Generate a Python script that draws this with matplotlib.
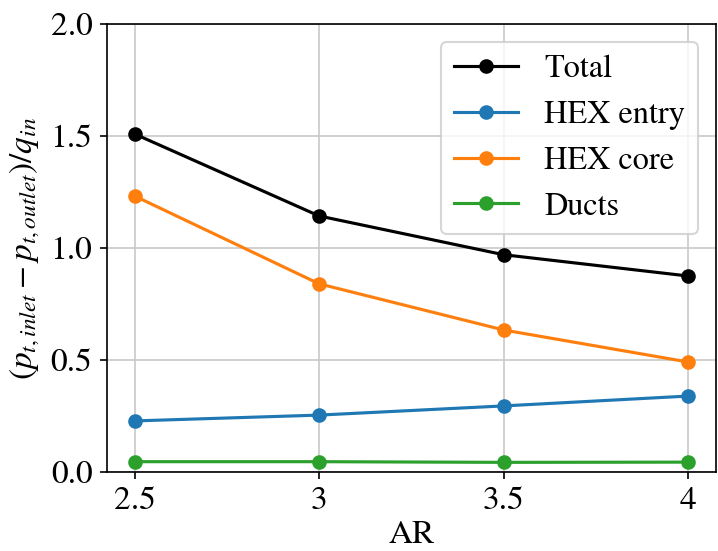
import numpy as np
import matplotlib.pyplot as plt

plt.rcParams['font.family'] = 'STIXGeneral'
plt.rcParams['mathtext.fontset'] = 'stix'
plt.rcParams['font.size'] = 16

# Datos
ar = [2.5, 3.0, 3.5, 4.0]
ar_labels = ['2.5', '3', '3.5', '4']
total = [1.509, 1.143, 0.970, 0.875]
hex_entry = [0.228, 0.254, 0.295, 0.339]
hex_core = [1.232, 0.840, 0.634, 0.491]
ducts = [0.046, 0.046, 0.043, 0.044]

fig = plt.figure(figsize=(718 / 150, 551 / 150), dpi=150)
ax = fig.add_axes([0.149, 0.1434, 0.848, 0.813])

ax.plot(ar, total, '-o', color='black', label='Total')
ax.plot(ar, hex_entry, '-o', color='tab:blue', label='HEX entry')
ax.plot(ar, hex_core, '-o', color='tab:orange', label='HEX core')
ax.plot(ar, ducts, '-o', color='tab:green', label='Ducts')

ax.set_xticks(ar)
ax.set_xticklabels(ar_labels)
ax.set_ylim(0, 2.0)
ax.set_yticks([0.0, 0.5, 1.0, 1.5, 2.0])
ax.set_xlabel('AR', labelpad=2)
ax.set_ylabel(r'$(p_{t,inlet} - p_{t,outlet})/q_{in}$')
ax.grid(True, color='#c8c8c8')
ax.legend(loc='upper right', fontsize=15.5, borderaxespad=0.55)

plt.savefig('out.png', dpi=150)
